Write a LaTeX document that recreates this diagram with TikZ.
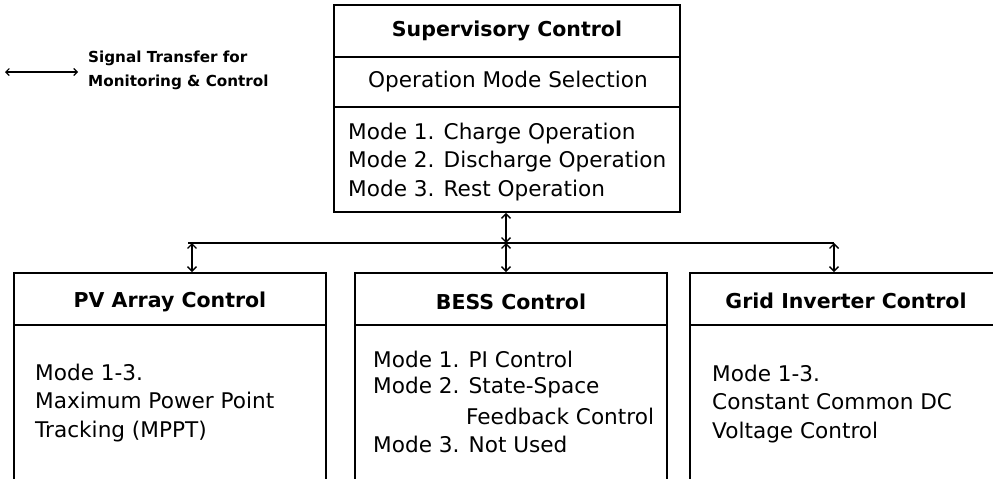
\documentclass[tikz,border=0pt]{standalone}
\usepackage{fontspec}
\setmainfont{DejaVu Sans}
\usetikzlibrary{arrows.meta}
\begin{document}
\begin{tikzpicture}[x=1pt,y=-1pt,
  box/.style={draw, line width=1.8pt, inner sep=0pt},
  body/.style={font=\fontsize{21.6}{28.7}\selectfont, align=left, inner sep=0pt, anchor=west},
  head/.style={font=\bfseries\fontsize{20.5}{28.5}\selectfont, inner sep=0pt},
  sig/.style={line width=1.4pt, {Straight Barb[length=4.5pt,width=9pt]}-{Straight Barb[length=4.5pt,width=9pt]}},
  bus/.style={line width=1.8pt}]
\useasboundingbox (0,0) rectangle (993,479);
\clip (0,0) rectangle (993,479);
% legend
\coordinate (la) at (5,72);
\coordinate (lb) at (78,72);
\draw[line width=1.1pt, {Straight Barb[length=3.5pt,width=7pt]}-{Straight Barb[length=3.5pt,width=7pt]}] (la) -- (lb);
\node[font=\bfseries\fontsize{15.2}{24}\selectfont, align=left, anchor=west, inner sep=0pt] (leg) at (88,70) {Signal Transfer for\\Monitoring \& Control};
% supervisory box
\node[box, minimum width=346pt, minimum height=207pt] (sup) at (507,108.5) {};
\draw[box] (334,57) -- (680,57);
\draw[box] (334,107) -- (680,107);
\node[head] (suph) at (507,31) {Supervisory Control};
\node[font=\fontsize{21.6}{28.7}\selectfont, inner sep=0pt] (ops) at (508,82) {Operation Mode Selection};
\node[body] (modes) at (348,162) {Mode 1. Charge Operation\\Mode 2. Discharge Operation\\Mode 3. Rest Operation};
% bus
\coordinate (busL) at (188,243);
\coordinate (busP) at (192,243);
\coordinate (busM) at (506,243);
\coordinate (busR) at (834,243);
\draw[bus] (busL) -- (busR);
% bottom boxes
\node[box, minimum width=312pt, minimum height=240pt] (pv) at (170,393) {};
\node[box, minimum width=312pt, minimum height=240pt] (bess) at (511,393) {};
\node[box, minimum width=312pt, minimum height=240pt] (grid) at (846,393) {};
\draw[box] (14,325) -- (326,325);
\draw[box] (355,325) -- (667,325);
\draw[box] (690,325) -- (1002,325);
\node[head] (pvh) at (170,302) {PV Array Control};
\node[head] (bessh) at (511,302) {BESS Control};
\node[head] (gridh) at (846,301) {Grid Inverter Control};
\node[body] (pvt) at (35,403) {Mode 1-3.\\Maximum Power Point\\Tracking (MPPT)};
\node[body] (bt1) at (373,359) {Mode 1. PI Control};
\node[body] (bt2) at (373,387.5) {Mode 2. State-Space};
\node[body] (bt3) at (466,416) {Feedback Control};
\node[body] (bt4) at (373,444.5) {Mode 3. Not Used};
\node[body] (gt) at (712,404) {Mode 1-3.\\Constant Common DC\\Voltage Control};
% connectors
\draw[sig] (sup.south -| busM) -- (busM);
\draw[sig] (busM) -- (bess.north -| busM);
\draw[sig] (busP) -- (pv.north -| busP);
\draw[sig] (busR) -- (grid.north -| busR);
\end{tikzpicture}
\end{document}
